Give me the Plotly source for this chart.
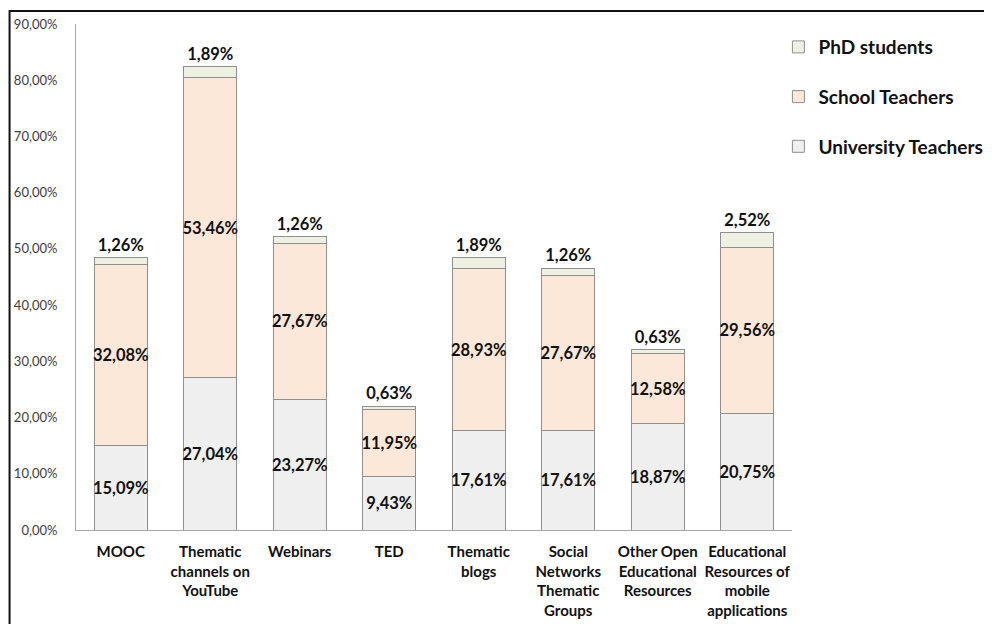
import plotly.graph_objects as go

categories = [
    "MOOC",
    "Thematic<br>channels on<br>YouTube",
    "Webinars",
    "TED",
    "Thematic<br>blogs",
    "Social<br>Networks<br>Thematic<br>Groups",
    "Other Open<br>Educational<br>Resources",
    "Educational<br>Resources of<br>mobile<br>applications",
]
university_teachers = [15.09, 27.04, 23.27, 9.43, 17.61, 17.61, 18.87, 20.75]
school_teachers = [32.08, 53.46, 27.67, 11.95, 28.93, 27.67, 12.58, 29.56]
phd_students = [1.26, 1.89, 1.26, 0.63, 1.89, 1.26, 0.63, 2.52]

FONT = "Lato, 'Open Sans', sans-serif"
EDGE = "#8f8f8f"

series = [
    ("University Teachers", university_teachers, "#efefef", "inside"),
    ("School Teachers", school_teachers, "#fce8d8", "inside"),
    ("PhD students", phd_students, "#eef1e2", "outside"),
]

fig = go.Figure()
for i, (name, vals, color, pos) in enumerate(series):
    fig.add_trace(
        go.Bar(
            name=name,
            x=categories,
            y=vals,
            marker=dict(color=color, line=dict(color=EDGE, width=1)),
            texttemplate="<b>%{y:.2f}%</b>",
            textposition=pos,
            textangle=0,
            insidetextanchor="middle",
            constraintext="none",
            cliponaxis=False,
            textfont=dict(family=FONT, size=16.5, color="#111111"),
            legendgroup=f"g{i}",
            legendrank=10 - i,
            hoverinfo="skip",
        )
    )

# page body adds 8px offset, so margins are shifted to compensate
fig.update_layout(
    barmode="stack",
    bargap=0.41,
    width=992,
    height=624,
    separators=",.",
    paper_bgcolor="white",
    plot_bgcolor="white",
    margin=dict(l=68, r=202, t=16, b=102),
    font=dict(family=FONT, color="#404040"),
    showlegend=True,
    legend=dict(
        x=0.981,
        y=0.992,
        xanchor="left",
        yanchor="top",
        traceorder="grouped",
        tracegroupgap=22,
        font=dict(family=FONT, size=19, color="#111111", weight="bold"),
        bgcolor="rgba(0,0,0,0)",
    ),
    xaxis=dict(
        automargin=False,
        showline=True,
        linecolor="#a6a6a6",
        linewidth=1,
        ticks="",
        ticklabelstandoff=8,
        tickfont=dict(family=FONT, size=15, color="#111111", weight="bold"),
        tickangle=0,
    ),
    yaxis=dict(
        automargin=False,
        range=[0, 90],
        dtick=10,
        tickformat=".2f",
        ticksuffix="%",
        showgrid=False,
        zeroline=False,
        showline=True,
        linecolor="#a6a6a6",
        linewidth=1,
        ticks="",
        ticklabelstandoff=15,
        tickfont=dict(family=FONT, size=13, color="#404040"),
    ),
)

# outer frame of the original chart (only top and left edges visible)
fig.add_shape(
    type="rect",
    xref="paper",
    yref="paper",
    x0=(1 - 68) / 722,
    x1=1.5,
    y0=-0.5,
    y1=(522 - 3) / 506,
    line=dict(color="#111111", width=2),
    fillcolor="rgba(0,0,0,0)",
    layer="below",
)

fig.write_html("out.html")
